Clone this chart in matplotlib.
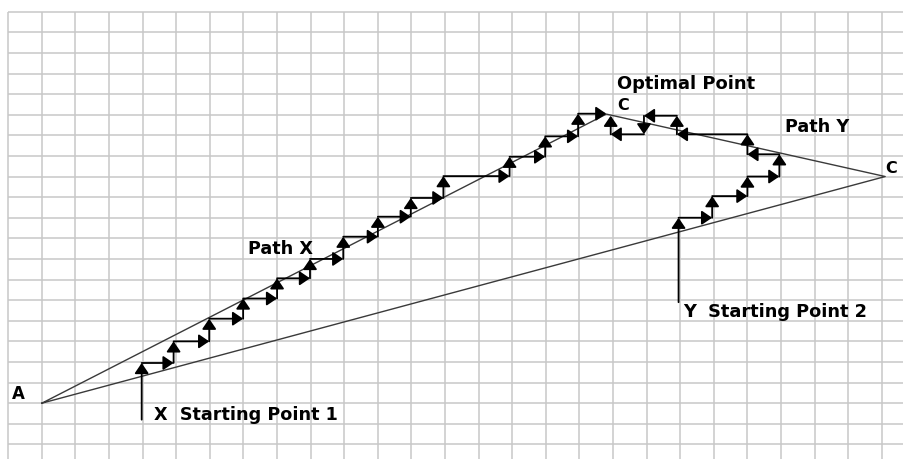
import matplotlib.pyplot as plt

# grid size (cells)
n_cols = 26
n_rows = 21

# triangle corners (grid units, y measured downward)
tri_x = [1.0, 17.8, 26.1]
tri_y = [19.0, 4.97, 8.0]

# path X (from starting point 1 up to the optimal point C)
path_x_x = [3.97, 3.97, 4.92, 4.92, 5.98, 5.98, 6.99, 6.99, 8.0, 8.0, 8.98, 8.98,
            9.97, 9.97, 11.0, 11.0, 11.98, 11.98, 12.95, 12.95, 14.92, 14.92,
            15.98, 15.98, 16.96, 16.96, 17.8]
path_x_y = [19.8, 17.05, 17.05, 16.0, 16.0, 14.9, 14.9, 13.92, 13.92, 12.94, 12.94, 12.0,
            12.0, 10.92, 10.92, 9.95, 9.95, 9.04, 9.04, 7.98, 7.98, 7.04,
            7.04, 6.05, 6.05, 4.95, 4.95]

# path Y (from starting point 2 up to the optimal point C)
path_y_x = [19.95, 19.95, 20.95, 20.95, 22.0, 22.0, 22.95, 22.95, 22.0, 22.0,
            19.9, 19.9, 18.92, 18.92, 17.93, 17.93]
path_y_y = [14.1, 10.0, 10.0, 8.95, 8.95, 8.0, 8.0, 6.92, 6.92, 5.95,
            5.95, 5.05, 5.05, 5.95, 5.95, 5.05]

labels = ["A", "X  Starting Point 1", "Path X", "Optimal Point", "C",
          "Path Y", "C", "Y  Starting Point 2"]
label_x = [0.12, 4.34, 7.13, 18.12, 18.12, 23.12, 26.09, 20.08]
label_y = [18.8, 19.82, 11.76, 3.77, 4.78, 5.83, 7.83, 14.84]
label_size = [12, 12.7, 12.7, 12.9, 11.5, 12.7, 11.5, 12.8]


def draw_path(ax, xs, ys):
    for i in range(len(xs) - 1):
        ax.annotate("", xy=(xs[i + 1], ys[i + 1]), xytext=(xs[i], ys[i]),
                    arrowprops=dict(arrowstyle="-|>,head_length=0.5,head_width=0.34",
                                    color="black", lw=1.3, shrinkA=0, shrinkB=0,
                                    mutation_scale=12.5))


fig = plt.figure(figsize=(9.04, 4.59), dpi=100)
ax = fig.add_axes([0, 0, 1, 1])
ax.set_xlim(-0.247, 26.66)
ax.set_ylim(21.71, -0.568)
ax.axis("off")

# grid paper
ax.vlines(range(n_cols + 1), 0, 22, color="#c8c8c8", lw=1.1, zorder=0)
ax.hlines(range(n_rows + 1), 0, 27, color="#c8c8c8", lw=1.1, zorder=0)

# triangle
ax.plot(tri_x + [tri_x[0]], tri_y + [tri_y[0]], color="#3a3a3a", lw=1.0, zorder=1)

draw_path(ax, path_x_x, path_x_y)
draw_path(ax, path_y_x, path_y_y)

for t, x, y, s in zip(labels, label_x, label_y, label_size):
    ax.text(x, y, t, fontsize=s, fontweight="bold", ha="left", va="baseline",
            family="DejaVu Sans")

fig.savefig("out.png", dpi=100)
